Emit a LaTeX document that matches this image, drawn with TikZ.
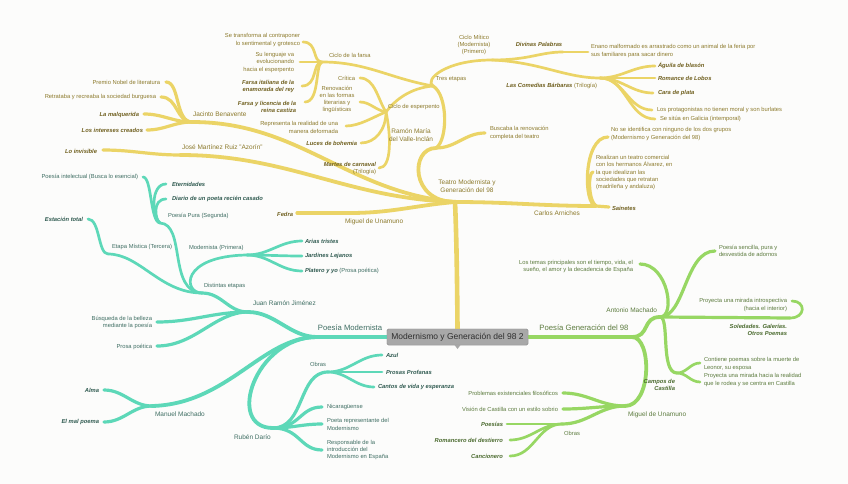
\documentclass[tikz,border=0pt]{standalone}
\usepackage{fontspec}
\setmainfont{Liberation Sans}
\definecolor{ylin}{HTML}{EBD466}
\definecolor{ytxt}{HTML}{8C7A2C}
\definecolor{ybt}{HTML}{6F5F1E}
\definecolor{tlin}{HTML}{5DD8B8}
\definecolor{ttxt}{HTML}{3F6E63}
\definecolor{tbt}{HTML}{2F5A50}
\definecolor{glin}{HTML}{97D763}
\definecolor{gtxt}{HTML}{5C7B3E}
\definecolor{gbt}{HTML}{4A6A2E}
\definecolor{boxf}{HTML}{A8A8A8}
\definecolor{boxb}{HTML}{959595}
\definecolor{boxt}{HTML}{2E2E2E}
\definecolor{bgc}{HTML}{FCFCFB}
\tikzset{
  every node/.style={inner sep=0pt, outer sep=0pt},
  fs/.style={font=\fontsize{5.8}{7.2}\selectfont},
  fb/.style={font=\fontsize{5.8}{7.2}\selectfont\bfseries\itshape},
  fm/.style={font=\fontsize{6.5}{7.8}\selectfont},
  big/.style={font=\fontsize{7.7}{9}\selectfont},
  ys/.style={fs, text=ytxt}, yb/.style={fb, text=ybt}, ym/.style={fm, text=ytxt},
  ts/.style={fs, text=ttxt}, tb/.style={fb, text=tbt}, tm/.style={fm, text=ttxt},
  gs/.style={fs, text=gtxt}, gb/.style={fb, text=gbt}, gm/.style={fm, text=gtxt},
  ylwa/.style={draw=ylin, line width=4.6pt, line cap=round},
  ylwb/.style={draw=ylin, line width=3.8pt, line cap=round},
  ylwc/.style={draw=ylin, line width=3.2pt, line cap=round},
  ylwd/.style={draw=ylin, line width=2.7pt, line cap=round},
  tlwa/.style={draw=tlin, line width=4.6pt, line cap=round},
  tlwb/.style={draw=tlin, line width=3.8pt, line cap=round},
  tlwc/.style={draw=tlin, line width=3.2pt, line cap=round},
  tlwd/.style={draw=tlin, line width=2.7pt, line cap=round},
  glwa/.style={draw=glin, line width=4.6pt, line cap=round},
  glwb/.style={draw=glin, line width=3.8pt, line cap=round},
  glwc/.style={draw=glin, line width=3.2pt, line cap=round},
  glwd/.style={draw=glin, line width=2.7pt, line cap=round},
}
\begin{document}
\begin{tikzpicture}[x=1pt,y=-1pt]
\useasboundingbox (0,0) rectangle (848,484);
\fill[bgc] (0,0) rectangle (848,484);

\node[fill=boxf, draw=boxb, line width=0.4pt, rounded corners=1.5pt, minimum width=141pt, minimum height=16pt,
      font=\fontsize{8.5}{10}\selectfont, text=boxt] (center) at (457.5,337) {Modernismo y Generación del 98 2};

% ---------------- yellow coordinates
\coordinate (T) at (455,202);
\coordinate (J) at (192,122);
\coordinate (Z) at (180,155);
\coordinate (U) at (350,213);
\coordinate (V) at (436,148);
\coordinate (A) at (596,206);
\coordinate (B) at (485,133);
\coordinate (E) at (433,86);
\coordinate (M) at (492,60);
\coordinate (F) at (322,62);
\coordinate (P) at (386,112);
\coordinate (K) at (360,78);
\coordinate (R) at (360,102);
\coordinate (Q) at (346,126);
\coordinate (L) at (361,143);
\coordinate (MC) at (379,168);
\coordinate (S1) at (303,42);
\coordinate (S2) at (300,62);
\coordinate (S3) at (302,86);
\coordinate (S4) at (305,102);
\coordinate (DP) at (563,52);
\coordinate (EN) at (588,52);
\coordinate (CB) at (600,78);
\coordinate (AG) at (655,66);
\coordinate (RL) at (655,78);
\coordinate (CP) at (653,93);
\coordinate (LP) at (652,110);
\coordinate (SG) at (655,119);
\coordinate (NI) at (608,137);
\coordinate (RZ) at (593,172);
\coordinate (SN) at (609,207);
\coordinate (PN) at (166,82);
\coordinate (RT) at (161,97);
\coordinate (LM) at (144,114);
\coordinate (LI) at (147,130);
\coordinate (LO) at (103,150);
\coordinate (FE) at (297,213);

% yellow lines
\draw[ylwa] (center.north) .. controls (457,260) and (456,225) .. (T);
\draw[ylwb] (T) to[out=175,in=0] (J);
\draw[ylwb] (T) to[out=178,in=0] (Z);
\draw[ylwb] (T) to[out=185,in=0] (U);
\draw[ylwb] (T) .. controls (410,202) and (410,148) .. (V);
\draw[ylwb] (T) to[out=0,in=180] (A);
\draw[ylwc] (J) .. controls (175,122) and (180,82) .. (PN);
\draw[ylwc] (J) .. controls (176,122) and (178,97) .. (RT);
\draw[ylwc] (J) to[out=180,in=0] (LM);
\draw[ylwc] (J) to[out=180,in=0] (LI);
\draw[ylwc] (Z) to[out=180,in=0] (LO);
\draw[ylwc] (U) -- (FE);
\draw[ylwc] (V) to[out=0,in=180] (B);
\draw[ylwc] (V) .. controls (448,140) and (448,95) .. (E);
\draw[ylwc] (A) .. controls (583,205) and (583,137) .. (NI);
\draw[ylwc] (A) .. controls (588,200) and (588,172) .. (RZ);
\draw[ylwc] (A) -- (SN);
\draw[ylwd] (E) .. controls (424,80) and (445,60) .. (M);
\draw[ylwd] (E) to[out=170,in=0] (F);
\draw[ylwd] (E) .. controls (410,88) and (395,100) .. (P);
\draw[ylwd] (P) .. controls (378,100) and (375,78) .. (K);
\draw[ylwd] (P) .. controls (375,110) and (370,102) .. (R);
\draw[ylwd] (P) .. controls (375,116) and (360,126) .. (Q);
\draw[ylwd] (P) .. controls (386,130) and (375,143) .. (L);
\draw[ylwd] (P) .. controls (391,135) and (392,168) .. (MC);
\draw[ylwd] (F) .. controls (312,62) and (318,42) .. (S1);
\draw[ylwd] (F) -- (S2);
\draw[ylwd] (F) .. controls (312,62) and (318,86) .. (S3);
\draw[ylwd] (F) .. controls (315,64) and (320,102) .. (S4);
\draw[ylwd] (M) .. controls (530,60) and (540,52) .. (DP);
\draw[ylwd] (DP) -- (EN);
\draw[ylwd] (M) .. controls (540,62) and (565,78) .. (CB);
\draw[ylwd] (CB) to[out=0,in=180] (AG);
\draw[ylwd] (CB) to[out=0,in=180] (RL);
\draw[ylwd] (CB) to[out=0,in=180] (CP);
\draw[ylwd] (CB) to[out=0,in=180] (LP);
\draw[ylwd] (CB) to[out=0,in=180] (SG);

% yellow texts
\node[ym, align=center] (tT) at (467,186) {Teatro Modernista y\\Generación del 98};
\node[ym, anchor=west] (tJ) at (193,114) {Jacinto Benavente};
\node[ym, anchor=west] (tZ) at (182,147) {José Martínez Ruiz "Azorín"};
\node[ym, anchor=west] (tU) at (345,222) {Miguel de Unamuno};
\node[ym, align=center] (tV) at (411,135) {Ramón María\\del Valle-Inclán};
\node[ym] (tA) at (557,213) {Carlos Arniches};
\node[ys, anchor=west, align=left] (tB) at (490,133) {Buscaba la renovación\\completa del teatro};
\node[ys] (tE) at (451,79) {Tres etapas};
\node[ys, align=center] (tM) at (474,45) {Ciclo Mítico\\(Modernista)\\(Primero)};
\node[ys, anchor=west] (tF) at (329,55) {Ciclo de la farsa};
\node[ys, anchor=west] (tP) at (388,107) {Ciclo de esperpento};
\node[ys, anchor=east] (tK) at (355,78) {Crítica};
\node[ys, align=center] (tR) at (337,99.5) {Renovación\\en las formas\\literarias y\\lingüísticas};
\node[ys, anchor=east, align=right] (tQ) at (338,127.5) {Representa la realidad de una\\manera deformada};
\node[yb, anchor=east] (tL) at (357,143) {Luces de bohemia};
\node[ys, anchor=east, align=right] (tMC) at (376,168.5) {{\bfseries\itshape\color{ybt}Martes de carnaval}\\(Trilogía)};
\node[ys, anchor=east, align=right] (tS1) at (300,40) {Se transforma al contraponer\\lo sentimental y grotesco};
\node[ys, anchor=east, align=right] (tS2) at (294,62.5) {Su lenguaje va\\evolucionando\\hacia el esperpento};
\node[yb, anchor=east, align=right] (tS3) at (294,86.5) {Farsa italiana de la\\enamorada del rey};
\node[yb, anchor=east, align=right] (tS4) at (296,107) {Farsa y licencia de la\\reina castiza};
\node[ys, anchor=east] (tPN) at (160,82) {Premio Nobel de literatura};
\node[ys, anchor=east] (tRT) at (156,97) {Retrataba y recreaba la sociedad burguesa};
\node[yb, anchor=east] (tLM) at (139,115) {La malquerida};
\node[yb, anchor=east] (tLI) at (143,130) {Los intereses creados};
\node[yb, anchor=east] (tLO) at (97,151) {Lo invisible};
\node[yb, anchor=east] (tFE) at (293,214) {Fedra};
\node[yb] (tDP) at (539,44) {Divinas Palabras};
\node[ys, anchor=west, align=left] (tEN) at (591,51) {Enano malformado es arrastrado como un animal de la feria por\\sus familiares para sacar dinero};
\node[ys, anchor=east] (tCB) at (597,86) {{\bfseries\itshape\color{ybt}Las Comedias Bárbaras} (Trilogía)};
\node[yb, anchor=west] (tAG) at (658,66) {Águila de blasón};
\node[yb, anchor=west] (tRL) at (658,78) {Romance de Lobos};
\node[yb, anchor=west] (tCP) at (658,93) {Cara de plata};
\node[ys, anchor=west] (tLP) at (657,110) {Los protagonistas no tienen moral y son burlates};
\node[ys, anchor=west] (tSG) at (660,119) {Se sitúa en Galicia (intemporal)};
\node[ys, anchor=west, align=left] (tNI) at (611,134) {No se identifica con ninguno de los dos grupos\\(Modernismo y Generación del 98)};
\node[ys, anchor=west, align=left] (tRZ) at (596,172.5) {Realizan un teatro comercial\\con los hermanos Álvarez, en\\la que idealizan las\\sociedades que retratan\\(madrileña y andaluza)};
\node[yb, anchor=west] (tSN) at (612,208) {Sainetes};

% ---------------- teal
\coordinate (PM) at (317,337);
\coordinate (JR) at (248,312);
\coordinate (MM) at (152,406);
\coordinate (RD) at (273,428);
\coordinate (DE) at (202,293);
\coordinate (BU) at (157,322);
\coordinate (PP) at (157,346);
\coordinate (MO) at (247,255);
\coordinate (AT) at (302,241);
\coordinate (JL) at (302,256);
\coordinate (PY) at (302,271);
\coordinate (PU) at (160,223);
\coordinate (PI) at (143,177);
\coordinate (ET) at (166,184);
\coordinate (DI) at (166,199);
\coordinate (EM) at (108,254);
\coordinate (ES) at (88,219);
\coordinate (AL) at (104,390);
\coordinate (EP) at (104,422);
\coordinate (OB) at (328,372);
\coordinate (AZ) at (382,355);
\coordinate (PF) at (382,372);
\coordinate (CV) at (374,387);
\coordinate (NIc) at (322,407);
\coordinate (PR) at (322,424);
\coordinate (RS) at (322,450);

\draw[tlwa] (center.west) -- (PM);
\draw[tlwb] (PM) .. controls (290,337) and (275,312) .. (JR);
\draw[tlwb] (PM) .. controls (262,337) and (228,404) .. (MM);
\draw[tlwb] (PM) .. controls (255,337) and (225,428) .. (RD);
\draw[tlwc] (JR) .. controls (228,312) and (222,293) .. (DE);
\draw[tlwc] (JR) to[out=180,in=0] (BU);
\draw[tlwc] (JR) .. controls (215,312) and (195,346) .. (PP);
\draw[tlwd] (DE) .. controls (183,293) and (180,256) .. (MO);
\draw[tlwd] (DE) .. controls (168,292) and (186,224) .. (PU);
\draw[tlwd] (DE) .. controls (160,293) and (140,254) .. (EM);
\draw[tlwd] (MO) to[out=0,in=180] (AT);
\draw[tlwd] (MO) to[out=0,in=180] (JL);
\draw[tlwd] (MO) to[out=0,in=180] (PY);
\draw[tlwd] (PU) .. controls (150,222) and (152,177) .. (PI);
\draw[tlwd] (PU) .. controls (152,218) and (150,184) .. (ET);
\draw[tlwd] (PU) .. controls (155,220) and (152,199) .. (DI);
\draw[tlwd] (EM) .. controls (98,254) and (100,219) .. (ES);
\draw[tlwc] (MM) to[out=180,in=0] (AL);
\draw[tlwc] (MM) to[out=180,in=0] (EP);
\draw[tlwc] (RD) .. controls (305,428) and (298,372) .. (OB);
\draw[tlwc] (RD) .. controls (300,428) and (300,407) .. (NIc);
\draw[tlwc] (RD) to[out=0,in=180] (PR);
\draw[tlwc] (RD) .. controls (300,428) and (300,450) .. (RS);
\draw[tlwd] (OB) to[out=0,in=180] (AZ);
\draw[tlwd] (OB) to[out=0,in=180] (PF);
\draw[tlwd] (OB) to[out=0,in=180] (CV);

\node[big, text=ttxt] (tPM) at (350,328) {Poesía Modernista};
\node[tm, anchor=west] (tJR) at (253,303) {Juan Ramón Jiménez};
\node[tm, anchor=west] (tMM) at (155,414) {Manuel Machado};
\node[tm, anchor=west] (tRD) at (234,437) {Rubén Darío};
\node[ts, anchor=west] (tDE) at (204,286) {Distintas etapas};
\node[ts, anchor=east, align=right] (tBU) at (152,322.5) {Búsqueda de la belleza\\mediante la poesía};
\node[ts, anchor=east] (tPP) at (152,347) {Prosa poética};
\node[ts, anchor=west] (tMO) at (189,248) {Modernista (Primera)};
\node[tb, anchor=west] (tAT) at (305,241) {Arias tristes};
\node[tb, anchor=west] (tJL) at (305,256) {Jardines Lejanos};
\node[ts, anchor=west] (tPY) at (305,271) {{\bfseries\itshape\color{tbt}Platero y yo} (Prosa poética)};
\node[ts, anchor=west] (tPU) at (168,216) {Poesía Pura (Segunda)};
\node[ts, anchor=east] (tPI) at (138,177) {Poesía intelectual (Busca lo esencial)};
\node[tb, anchor=west] (tET) at (172,184) {Eternidades};
\node[tb, anchor=west] (tDI) at (172,199) {Diario de un poeta recién casado};
\node[ts, anchor=west] (tEM) at (112,247) {Etapa Mística (Tercera)};
\node[tb, anchor=east] (tES) at (83,219) {Estación total};
\node[tb, anchor=east] (tAL) at (99,390) {Alma};
\node[tb, anchor=east] (tEP) at (99,422) {El mal poema};
\node[ts] (tOB) at (318,364) {Obras};
\node[tb, anchor=west] (tAZ) at (386,355) {Azul};
\node[tb, anchor=west] (tPF) at (386,372) {Prosas Profanas};
\node[tb, anchor=west] (tCV) at (378,387) {Cantos de vida y esperanza};
\node[ts, anchor=west] (tNIc) at (327,407) {Nicaragüense};
\node[ts, anchor=west, align=left] (tPR) at (327,424.5) {Poeta representante del\\Modernismo};
\node[ts, anchor=west, align=left] (tRS) at (327,450) {Responsable de la\\introducción del\\Modernismo en España};

% ---------------- green
\coordinate (PG) at (632,337);
\coordinate (AM) at (660,317);
\coordinate (MU) at (625,406);
\coordinate (LT) at (640,264);
\coordinate (PS) at (715,251);
\coordinate (SO) at (790,318);
\coordinate (PI2) at (792,301);
\coordinate (CC) at (677,373);
\coordinate (LE) at (700,363);
\coordinate (CA) at (700,382);
\coordinate (PE) at (563,393);
\coordinate (VC) at (563,409);
\coordinate (OB2) at (562,424);
\coordinate (PO) at (507,424);
\coordinate (RO) at (510,440);
\coordinate (CN) at (510,456);

\draw[glwa] (center.east) -- (PG);
\draw[glwb] (PG) .. controls (650,337) and (642,317) .. (AM);
\draw[glwb] (PG) .. controls (652,337) and (652,406) .. (MU);
\draw[glwc] (AM) .. controls (676,317) and (668,264) .. (LT);
\draw[glwc] (AM) .. controls (685,317) and (685,251) .. (PS);
\draw[glwc] (AM) -- (SO);
\draw[glwc] (AM) .. controls (670,317) and (660,373) .. (CC);
\draw[glwd] (SO) .. controls (806,318) and (806,301) .. (PI2);
\draw[glwd] (CC) to[out=0,in=180] (LE);
\draw[glwd] (CC) to[out=0,in=180] (CA);
\draw[glwc] (MU) to[out=180,in=0] (PE);
\draw[glwc] (MU) to[out=180,in=0] (VC);
\draw[glwc] (MU) to[out=180,in=0] (OB2);
\draw[glwd] (OB2) -- (PO);
\draw[glwd] (OB2) to[out=180,in=0] (RO);
\draw[glwd] (OB2) to[out=180,in=0] (CN);

\node[big, text=gtxt] (tPG) at (584,328) {Poesía Generación del 98};
\node[gm, anchor=east] (tAM) at (657,310) {Antonio Machado};
\node[gm, anchor=west] (tMU) at (628,415) {Miguel de Unamuno};
\node[gs, anchor=east, align=right] (tLT) at (633,266.5) {Los temas principales son el tiempo, vida, el\\sueño, el amor y la decadencia de España};
\node[gs, anchor=west, align=center] (tPS) at (719,250.5) {Poesía sencilla, pura y\\desvestida de adornos};
\node[gb, anchor=east, align=right] (tSO) at (787,329.5) {Soledades. Galerías.\\Otros Poemas};
\node[gs, anchor=east, align=right] (tPI2) at (787,305) {Proyecta una mirada introspectiva\\(hacia el interior)};
\node[gb, anchor=east, align=right] (tCC) at (675,385) {Campos de\\Castilla};
\node[gs, anchor=west, align=left] (tLE) at (704,364) {Contiene poemas sobre la muerte de\\Leonor, su esposa};
\node[gs, anchor=west, align=left] (tCA) at (704,380) {Proyecta una mirada hacia la realidad\\que le rodea y se centra en Castilla};
\node[gs, anchor=east] (tPE) at (558,393) {Problemas existenciales filosóficos};
\node[gs, anchor=east] (tVC) at (558,409) {Visión de Castilla con un estilo sobrio};
\node[gs] (tOB2) at (572,433) {Obras};
\node[gb, anchor=east] (tPO) at (503,424) {Poesías};
\node[gb, anchor=east] (tRO) at (503,440) {Romancero del destierro};
\node[gb, anchor=east] (tCN) at (503,456) {Cancionero};

% center box on top
\node[fill=boxf, draw=boxb, line width=0.4pt, rounded corners=1.5pt, minimum width=141pt, minimum height=16pt,
      font=\fontsize{8.5}{10}\selectfont, text=boxt] (centertop) at (457.5,337) {Modernismo y Generación del 98 2};
\fill[boxf] (centertop.south) ++(-3,0) -- ++(6,0) -- ++(-3,4) -- cycle;
\end{tikzpicture}
\end{document}
